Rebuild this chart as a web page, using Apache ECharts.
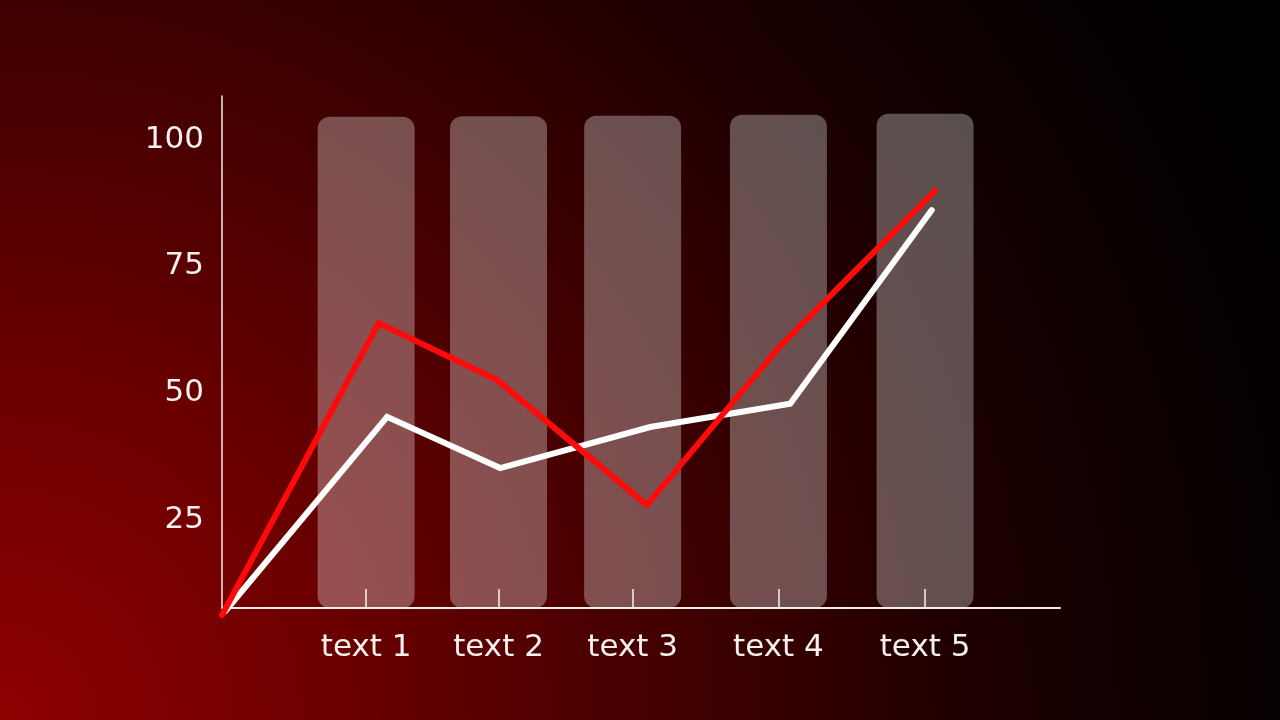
<!DOCTYPE html>
<html>
<head>
<meta charset="utf-8">
<script src="https://cdn.jsdelivr.net/npm/echarts@6/dist/echarts.min.js"></script>
<style>
html,body{margin:0;padding:0;width:1280px;height:720px;overflow:hidden;background:#000;}
#c{width:1280px;height:720px;
background: radial-gradient(circle farthest-corner at 0% 100%, #8e0000 0px, #6e0000 320px, #460000 640px, #200000 960px, #0f0000 1150px, #050000 1300px, #000000 1470px);}
</style>
</head>
<body>
<div id="c"></div>
<script>
// ---- data ----
const categories = ['text 1', 'text 2', 'text 3', 'text 4', 'text 5'];
const categoryX = [17.2, 33.0, 49.0, 66.4, 83.9];
const columnValues = [104.5, 104.6, 104.7, 104.9, 105.1];
const redX = [0, 18.7, 32.8, 50.7, 66.6, 85.1];
const redY = [6.2, 63.8, 52.6, 27.9, 59.3, 89.9];
const whiteX = [0.4, 19.7, 33.2, 51.1, 67.8, 84.7];
const whiteY = [7.0, 45.3, 35.2, 43.3, 47.9, 86.1];
const yTickValues = [25, 50, 75, 100];

const chart = echarts.init(document.getElementById('c'), null, {renderer: 'canvas'});
const font = '"DejaVu Sans", Inter, "Noto Sans", sans-serif';

function catName(v) {
  let best = 0, d = Infinity;
  categoryX.forEach((x, i) => { const dd = Math.abs(x - v); if (dd < d) { d = dd; best = i; } });
  return categories[best];
}

chart.setOption({
  backgroundColor: 'transparent',
  animation: false,
  grid: {left: 222, right: 220, top: 96, bottom: 112, containLabel: false},
  xAxis: {
    type: 'value', min: 0, max: 100,
    axisLine: {show: true, lineStyle: {color: '#f4eded', width: 2}},
    axisTick: {show: true, inside: true, length: 19, customValues: categoryX, lineStyle: {color: '#f4eded', width: 1.5}},
    axisLabel: {show: true, customValues: categoryX, formatter: catName, color: '#f6f0f0', fontSize: 31, fontFamily: font, margin: 24},
    splitLine: {show: false}
  },
  yAxis: {
    type: 'value', min: 7.6, max: 108.6,
    axisLine: {show: true, lineStyle: {color: '#f4eded', width: 1.5}},
    axisTick: {show: false},
    axisLabel: {show: true, customValues: yTickValues, color: '#f6f0f0', fontSize: 31, fontFamily: font, margin: 18},
    splitLine: {show: false}
  },
  series: [
    {
      type: 'bar',
      data: categoryX.map((x, i) => [x, columnValues[i]]),
      barWidth: 97,
      itemStyle: {color: 'rgba(255,255,255,0.31)', borderRadius: 12},
      z: 1
    },
    {
      type: 'line',
      data: whiteX.map((x, i) => [x, whiteY[i]]),
      showSymbol: false, symbol: 'none', clip: false,
      lineStyle: {color: '#ffffff', width: 6, join: 'miter', cap: 'round'},
      z: 3
    },
    {
      type: 'line',
      data: redX.map((x, i) => [x, redY[i]]),
      showSymbol: false, symbol: 'none', clip: false,
      lineStyle: {color: '#ff0a0a', width: 6, join: 'miter', cap: 'round'},
      z: 4
    }
  ]
});
</script>
</body>
</html>
